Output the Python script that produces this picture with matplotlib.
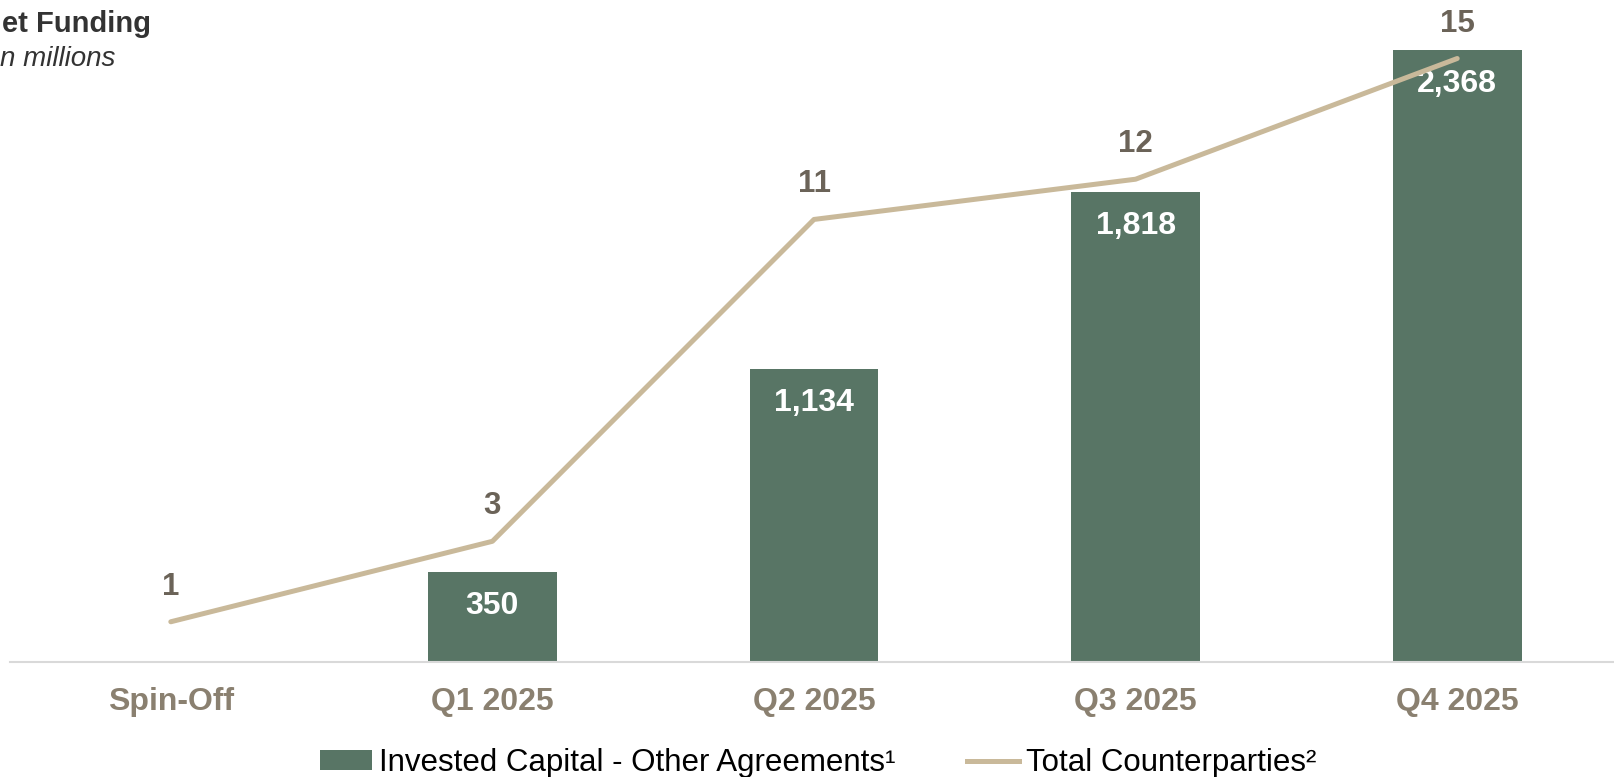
import matplotlib
matplotlib.use("Agg")
import matplotlib.pyplot as plt
from matplotlib.lines import Line2D
from matplotlib.patches import Patch

categories = ["Spin-Off", "Q1 2025", "Q2 2025", "Q3 2025", "Q4 2025"]
invested_capital = [None, 350, 1134, 1818, 2368]
counterparties = [1, 3, 11, 12, 15]

bar_color = "#587565"
line_color = "#c9b99a"
tick_color = "#8a8070"
label_color = "#6b6358"

plt.rcParams['font.family'] = ['Liberation Sans', 'DejaVu Sans']

fig = plt.figure(figsize=(16.15, 7.77), dpi=100)
ax = fig.add_axes([10/1615, 115/777, 1608/1615, 622/777])
ax2 = ax.twinx()

x = list(range(len(categories)))
bx = [i for i, v in zip(x, invested_capital) if v is not None]
bv = [v for v in invested_capital if v is not None]
bars = ax.bar(bx, bv, width=0.4, color=bar_color, zorder=2)
for xi, v in zip(bx, bv):
    ax.annotate(f"{v:,}", (xi, v), xytext=(0, -34), textcoords="offset pixels",
                ha="center", va="center", color="white", fontsize=23, fontweight="bold")

ax.set_xlim(-0.5, 4.5)
ax.set_ylim(0, 2407)
ax2.set_ylim(0, 15.46)

ax2.plot(x, counterparties, color=line_color, lw=3.6, solid_capstyle="round", zorder=3)
for xi, v in zip(x, counterparties):
    ax2.annotate(str(v), (xi, v), xytext=(0, 35), textcoords="offset pixels",
                 ha="center", va="center", color=label_color, fontsize=22.5, fontweight="bold")

for a in (ax, ax2):
    for s in ("top", "right", "left"):
        a.spines[s].set_visible(False)
    a.set_yticks([])
ax2.spines["bottom"].set_visible(False)
ax.spines["bottom"].set_color("#d9d9d9")
ax.spines["bottom"].set_linewidth(1.5)
ax.set_xticks(x)
ax.set_xticklabels(categories, fontsize=23, fontweight="bold", color=tick_color)
ax.tick_params(axis="x", length=0, pad=18)

fig.text(0.001, 1 - 24/777, "et Funding", fontsize=21, fontweight="bold", color="#333333", va="center", ha="left")
fig.text(0.0, 1 - 59/777, "n millions", fontsize=20, style="italic", color="#333333", va="center", ha="left")

handles = [Patch(facecolor=bar_color, edgecolor="none"),
           Line2D([0], [0], color=line_color, lw=3.6)]
labels = ["Invested Capital - Other Agreements\u00b9", "Total Counterparties\u00b2"]
fig.legend(handles, labels, loc="center", bbox_to_anchor=(818/1615, 1 - 763/777), ncol=2,
           frameon=False, fontsize=22.5, handlelength=1.68, handletextpad=0.2, columnspacing=2.3,
           handleheight=0.57, borderpad=0.1)

fig.savefig("out.png", dpi=100)
